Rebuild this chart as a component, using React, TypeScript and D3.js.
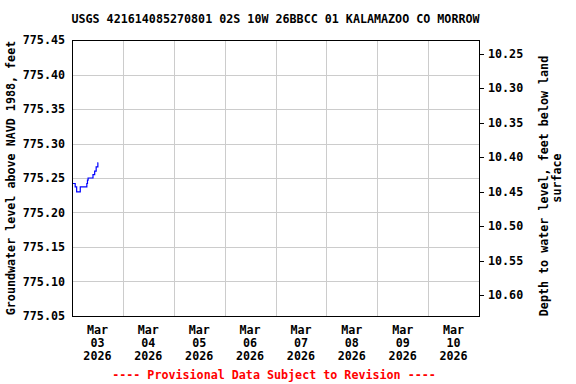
import React from "react";
import * as d3 from "d3";

const title = "USGS 421614085270801 02S 10W 26BBCC 01 KALAMAZOO CO MORROW";
const leftAxisTitle = "Groundwater level above NAVD 1988, feet";
const rightAxisTitle1 = "Depth to water level, feet below land";
const rightAxisTitle2 = "surface";
const footer = "---- Provisional Data Subject to Revision ----";

const startDate = "2026-03-03T00:00:00";
const endDate = "2026-03-11T00:00:00";
const dayLabels = ["Mar|03|2026", "Mar|04|2026", "Mar|05|2026", "Mar|06|2026", "Mar|07|2026", "Mar|08|2026", "Mar|09|2026", "Mar|10|2026"];

const elevTicks = [775.05, 775.1, 775.15, 775.2, 775.25, 775.3, 775.35, 775.4, 775.45];
const depthTicks = [10.25, 10.3, 10.35, 10.4, 10.45, 10.5, 10.55, 10.6];
const landSurface = [785.68];

// hours after Mar 03 00:00, and groundwater elevation
const obsHours = [0, 1.5, 2.2, 3.9, 7.0, 7.3, 7.6, 9.9, 10.7, 11.4, 12.2, 12.4];
const obsValues = [775.242, 775.237, 775.23, 775.237, 775.242, 775.247, 775.25, 775.255, 775.26, 775.266, 775.272, 775.272];

const W = 576, H = 384;
const M = { left: 72, right: 479, top: 40, bottom: 316 };
const FONT = "'DejaVu Sans Mono', monospace";

export default function App() {
  const t0 = new Date(startDate);
  const x = d3.scaleTime().domain([t0, new Date(endDate)]).range([M.left, M.right]);
  const y = d3.scaleLinear().domain([775.05, 775.45]).range([M.bottom, M.top]);
  const yD = d3.scaleLinear().domain([landSurface[0] - 775.05, landSurface[0] - 775.45]).range([M.bottom, M.top]);

  const days = d3.timeDay.range(t0, new Date(endDate));
  const midnights = days.slice(1);

  const pts = obsHours.map((h, i) => [new Date(t0.getTime() + h * 3600000), obsValues[i]] as [Date, number]);
  const line = d3.line<[Date, number]>().x(d => x(d[0])).y(d => y(d[1])).curve(d3.curveStepAfter);

  const fs = 11.7;
  return (
    <svg width={W} height={H} style={{ position: "absolute", left: 0, top: 0, background: "#fff" }}
      fontFamily={FONT} fontWeight="bold" fontSize={fs}>
      <rect x={0} y={0} width={W} height={H} fill="#fff" />
      <text x={(M.left + M.right) / 2} y={23} textAnchor="middle">{title}</text>
      {/* grid */}
      {elevTicks.slice(1, -1).map(v => (
        <line key={"h" + v} x1={M.left} x2={M.right} y1={Math.round(y(v)) + 0.5} y2={Math.round(y(v)) + 0.5} stroke="#cccccc" />
      ))}
      {midnights.map((d, i) => (
        <line key={"v" + i} x1={Math.round(x(d)) + 0.5} x2={Math.round(x(d)) + 0.5} y1={M.top} y2={M.bottom} stroke="#cccccc" />
      ))}
      {/* data */}
      <path d={line(pts) || ""} fill="none" stroke="#0000ff" strokeWidth={1.2} />
      {/* frame */}
      <rect x={M.left + 0.5} y={M.top + 0.5} width={M.right - M.left} height={M.bottom - M.top} fill="none" stroke="#000" />
      {/* left labels */}
      {elevTicks.map(v => (
        <text key={"l" + v} x={65} y={y(v) + 4} textAnchor="end">{v.toFixed(2)}</text>
      ))}
      {/* right ticks */}
      {depthTicks.map(v => (
        <g key={"r" + v}>
          <line x1={M.right} x2={M.right + 5} y1={Math.round(yD(v)) + 0.5} y2={Math.round(yD(v)) + 0.5} stroke="#000" />
          <text x={488} y={yD(v) + 4}>{v.toFixed(2)}</text>
        </g>
      ))}
      {/* x labels */}
      {days.map((d, i) => {
        const cx = x(new Date(d.getTime() + 12 * 3600000));
        const parts = dayLabels[i].split("|");
        return (
          <text key={"x" + i} x={cx} textAnchor="middle">
            {parts.map((p, j) => (
              <tspan key={j} x={cx} y={334 + j * 13}>{p}</tspan>
            ))}
          </text>
        );
      })}
      <text transform={`translate(15,${(M.top + M.bottom) / 2}) rotate(-90)`} textAnchor="middle">{leftAxisTitle}</text>
      <text transform={`translate(548,186) rotate(-90)`} textAnchor="middle">{rightAxisTitle1}</text>
      <text transform={`translate(561,178) rotate(-90)`} textAnchor="middle">{rightAxisTitle2}</text>
      <text x={274} y={379} textAnchor="middle" fill="#ff0000">{footer}</text>
    </svg>
  );
}
